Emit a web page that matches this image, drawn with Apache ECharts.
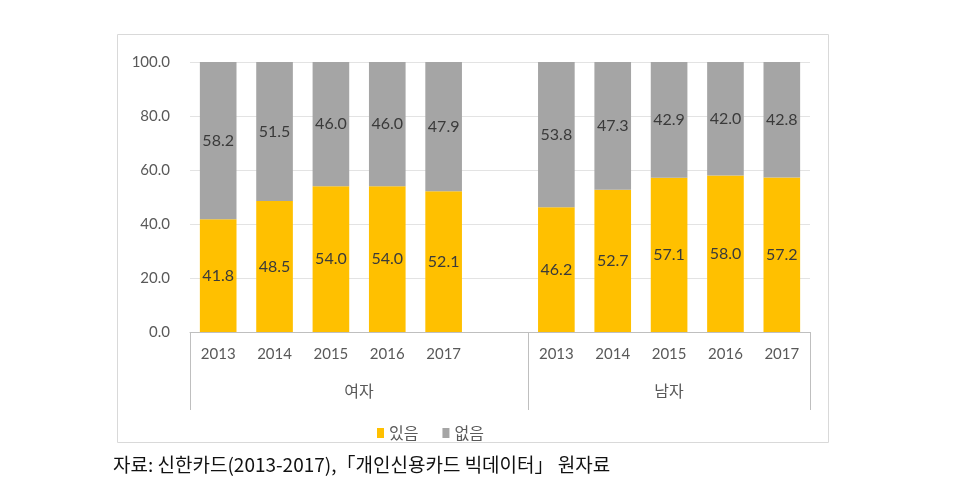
<!DOCTYPE html>
<html><head><meta charset="utf-8">
<script src="https://cdn.jsdelivr.net/npm/echarts@6/dist/echarts.min.js"></script>
<style>html,body{margin:0;padding:0;background:#fff}#c{width:969px;height:488px}</style>
</head><body><div id="c"></div>
<script>
const years = ['2013','2014','2015','2016','2017'];
const groups = ['여자','남자'];
const femaleYes = [41.8, 48.5, 54.0, 54.0, 52.1];
const femaleNo  = [58.2, 51.5, 46.0, 46.0, 47.9];
const maleYes   = [46.2, 52.7, 57.1, 58.0, 57.2];
const maleNo    = [53.8, 47.3, 42.9, 42.0, 42.8];
const seriesNames = ['있음','없음'];
const yTicks = [0, 20, 40, 60, 80, 100];
const sourceText = '자료: 신한카드(2013-2017),「개인신용카드 빅데이터」 원자료';

// categories: female years + one blank slot + male years
const cats = years.concat(['']).concat(years);
const yesData = femaleYes.concat([null]).concat(maleYes);
const noData = femaleNo.concat([null]).concat(maleNo);
const femaleSpan = years.length + 1, maleSpan = years.length, total = cats.length;
const groupBounds = [0, femaleSpan, total];
const groupCenters = [femaleSpan / 2, femaleSpan + maleSpan / 2];

const lbl = {show: true, position: 'inside', color: '#3a3a3a', fontSize: 16,
  fontFamily: 'Lato, "Noto Sans", sans-serif',
  formatter: p => p.value == null ? '' : p.value.toFixed(1)};

const chart = echarts.init(document.getElementById('c'));
chart.setOption({
  animation: false,
  graphic: [
    {type: 'rect', shape: {x: 117.5, y: 34.5, width: 711, height: 408}, style: {fill: 'none', stroke: '#D9D9D9', lineWidth: 1}, silent: true, z: -1},
    {type: 'text', left: 113, top: 455, style: {text: sourceText, fontSize: 19, fill: '#111', fontFamily: '"Noto Sans CJK KR", sans-serif'}}
  ],
  grid: {left: 190, right: 159, top: 62, bottom: 156},
  legend: {
    data: seriesNames, left: 372, top: 420, itemWidth: 7, itemHeight: 10, itemGap: 24,
    icon: 'rect',
    textStyle: {color: '#595959', fontSize: 16, fontFamily: '"Noto Sans CJK KR", sans-serif'}
  },
  xAxis: [
    {type: 'category', data: cats, position: 'bottom',
      axisLine: {lineStyle: {color: '#BFBFBF'}}, axisTick: {show: false},
      axisLabel: {color: '#595959', fontSize: 15, margin: 15, interval: 0, fontFamily: 'Lato, "Noto Sans", sans-serif'}},
    {type: 'value', min: 0, max: total, position: 'bottom',
      axisLine: {show: false}, splitLine: {show: false},
      axisTick: {show: true, customValues: groupBounds, length: 78, lineStyle: {color: '#BFBFBF'}},
      axisLabel: {show: true, customValues: groupCenters, margin: 51, color: '#595959', fontSize: 16,
        fontFamily: '"Noto Sans CJK KR", sans-serif',
        formatter: v => v === groupCenters[0] ? groups[0] : groups[1]}}
  ],
  yAxis: {type: 'value', min: yTicks[0], max: yTicks[yTicks.length-1], interval: 20,
    axisLine: {show: false}, axisTick: {show: false},
    splitLine: {lineStyle: {color: '#E3E3E3'}},
    axisLabel: {color: '#595959', fontSize: 15, margin: 20, formatter: v => v.toFixed(1), fontFamily: 'Lato, "Noto Sans", sans-serif'}},
  series: [
    {name: seriesNames[0], type: 'bar', stack: 's', data: yesData, barWidth: '65%', itemStyle: {color: '#FFC000'}, label: lbl},
    {name: seriesNames[1], type: 'bar', stack: 's', data: noData, barWidth: '65%', itemStyle: {color: '#A5A5A5'}, label: lbl}
  ]
});
</script></body></html>
